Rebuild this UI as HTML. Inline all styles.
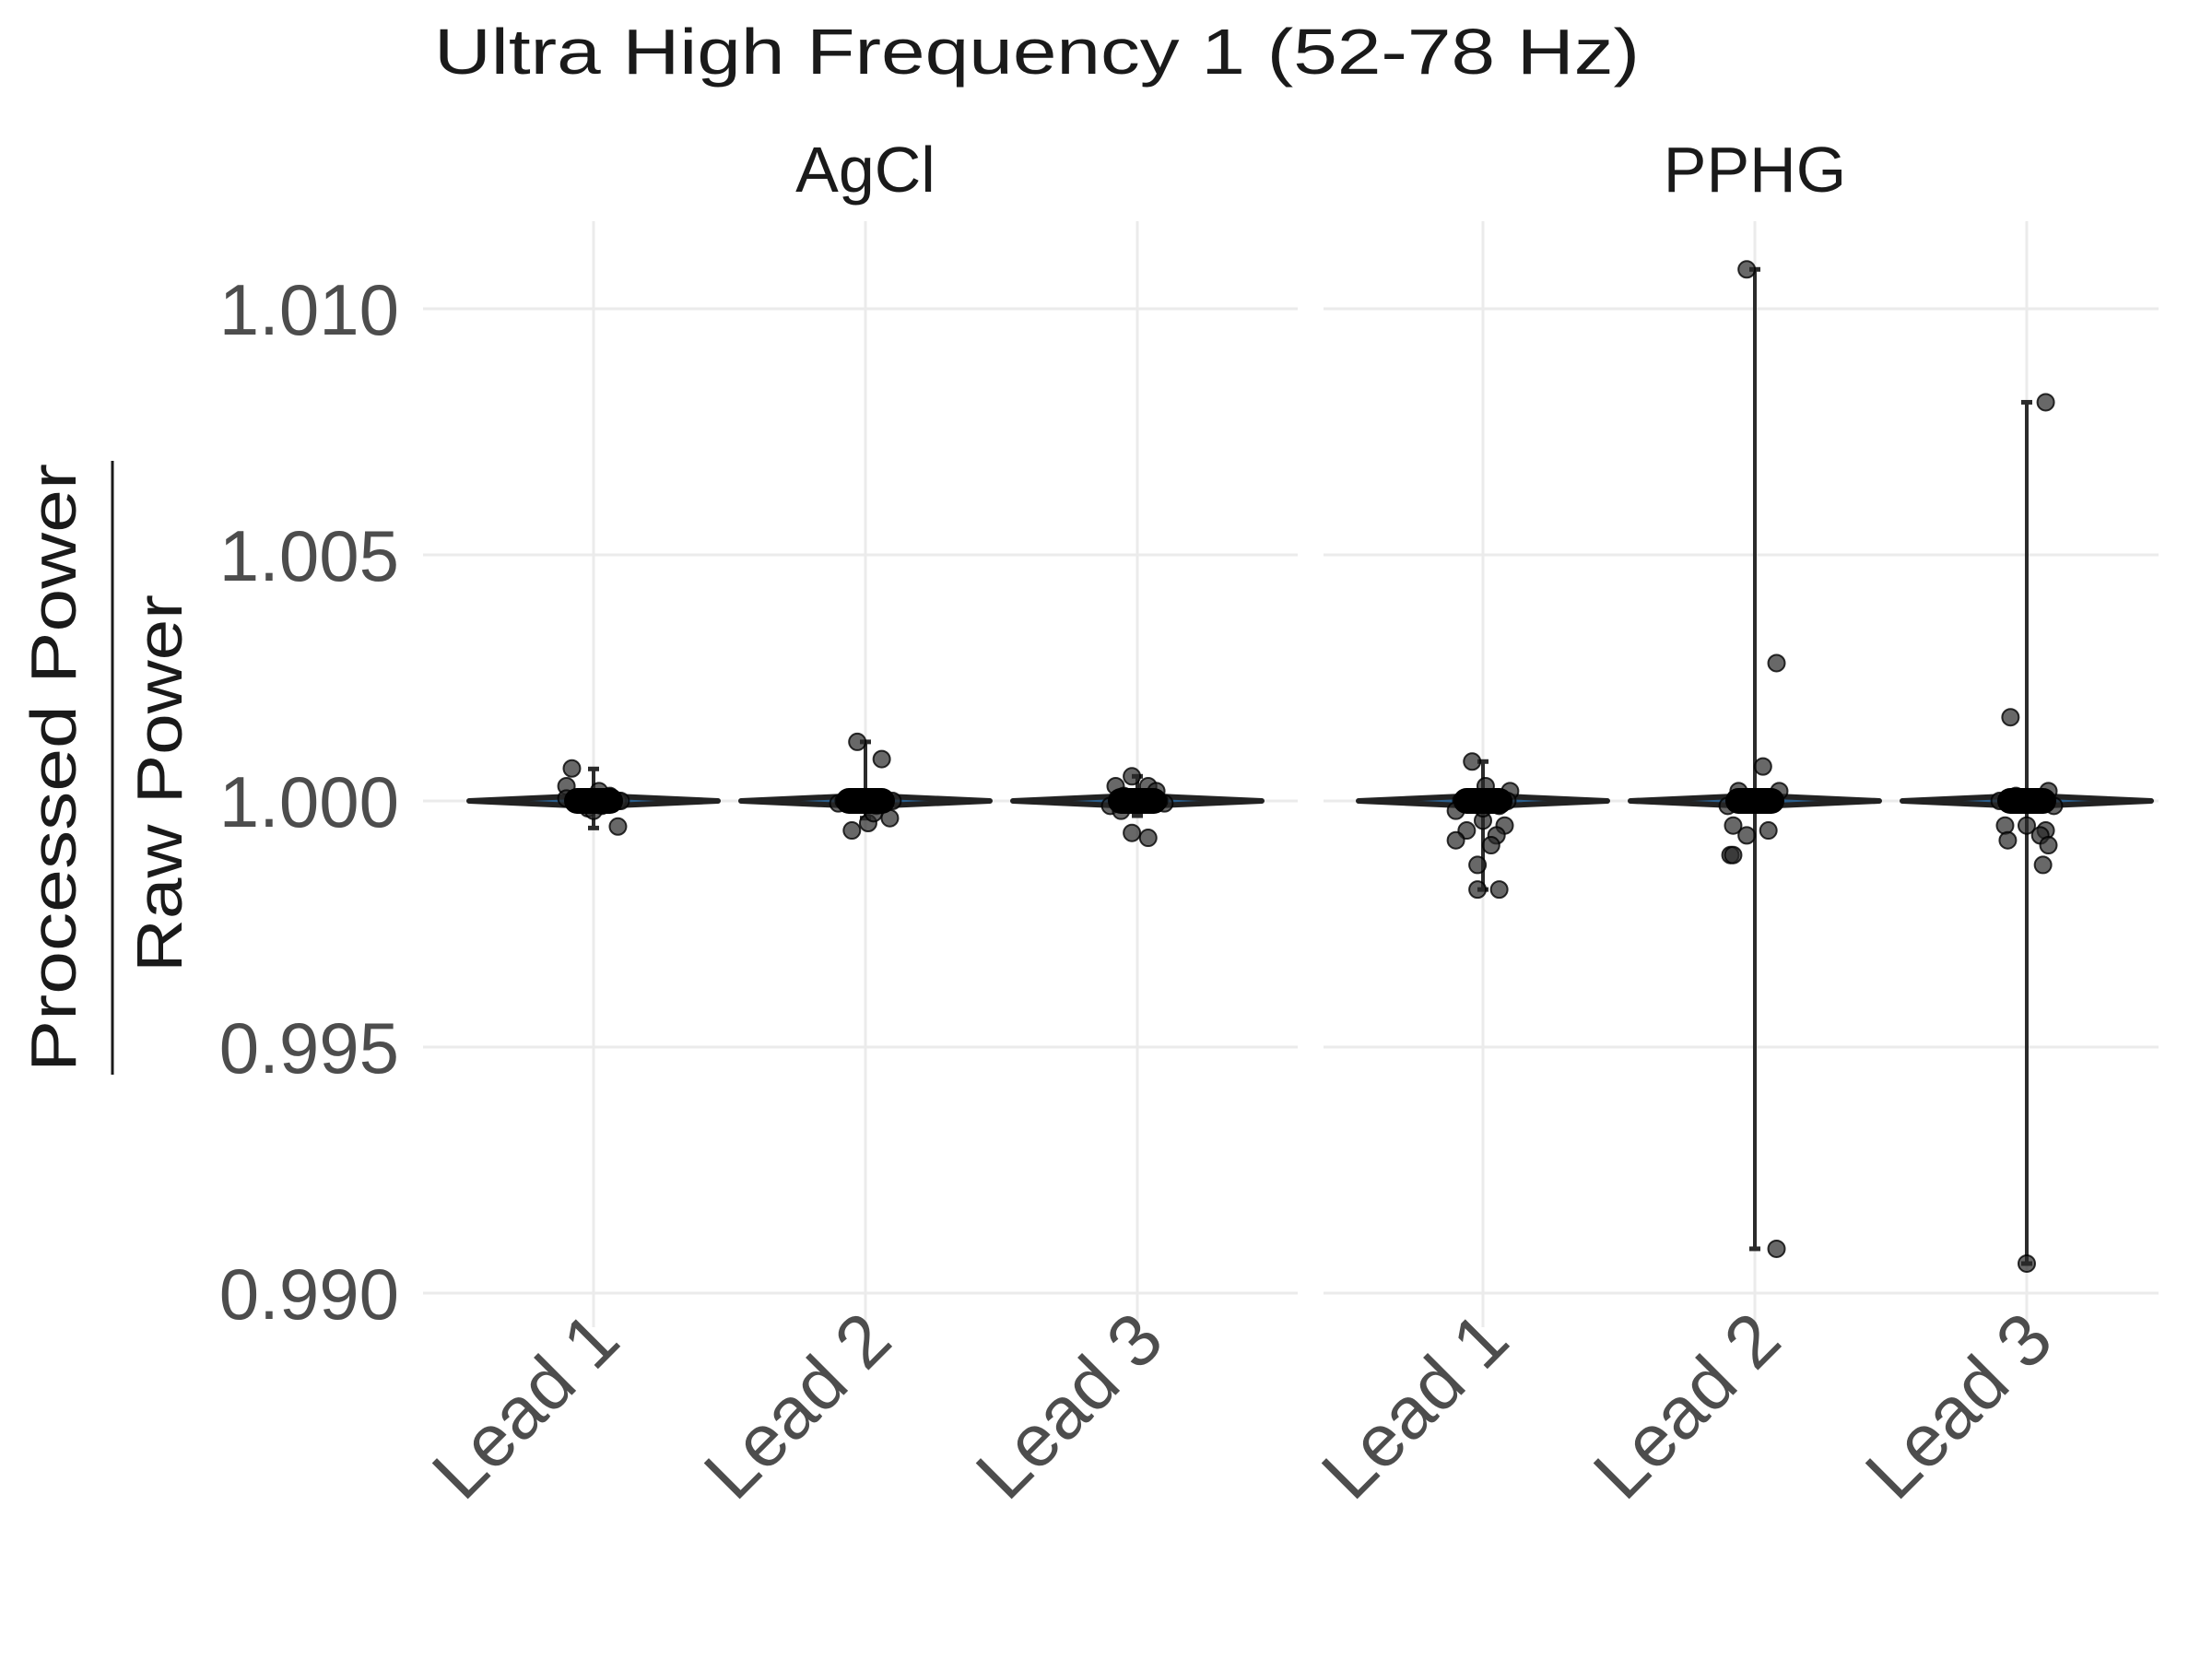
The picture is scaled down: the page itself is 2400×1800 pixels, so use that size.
<!DOCTYPE html>
<html><head><meta charset="utf-8"><style>
html,body{margin:0;padding:0;background:#fff;}
svg{display:block;font-family:"Liberation Sans",sans-serif;}
</style></head><body>
<svg id="chart" width="2400" height="1800" viewBox="0 0 2400 1800" xmlns="http://www.w3.org/2000/svg">
<text x="471" y="80" font-size="70" fill="#1a1a1a" textLength="1308" lengthAdjust="spacingAndGlyphs">Ultra High Frequency 1 (52-78 Hz)</text>
<g>
<text transform="translate(82,833) rotate(-90)" text-anchor="middle" font-size="70" fill="#1a1a1a" textLength="660" lengthAdjust="spacingAndGlyphs">Processed Power</text>
<line x1="122" x2="122" y1="500" y2="1166" stroke="#1a1a1a" stroke-width="3"/>
<text transform="translate(197,850) rotate(-90)" text-anchor="middle" font-size="70" fill="#1a1a1a" textLength="410" lengthAdjust="spacingAndGlyphs">Raw Power</text>
</g>
<g id="plot"></g>
</svg>
<script>
const panels = ["AgCl", "PPHG"];
const categories = ["Lead 1", "Lead 2", "Lead 3"];
const yTicks = [0.990, 0.995, 1.000, 1.005, 1.010];
const yTickLabels = ["0.990", "0.995", "1.000", "1.005", "1.010"];
const rangeMin = [[0.99945, 0.99965, 0.9997], [0.9982, 0.9909, 0.9906]];
const rangeMax = [[1.00065, 1.0012, 1.0005], [1.0008, 1.0108, 1.0081]];
const violinCenter = [[1.0000, 1.0000, 1.0000], [1.0000, 1.0000, 1.0000]];
const ptValues = [
 [
  [1.00066, 1.0003, 1.0002, 1.0001, 1.0000, 0.99995, 0.9999, 0.99985, 1.0000, 1.00005, 0.99948, 0.9998, 1.0000],
  [1.0012, 1.00085, 1.0000, 0.99995, 0.9999, 0.99965, 0.99955, 0.9994, 1.0000, 1.0000, 1.00005, 0.99975],
  [1.0005, 1.0003, 1.0003, 1.0002, 1.0001, 1.0000, 0.99995, 0.9999, 0.99935, 0.99925, 1.0000, 0.9998]
 ],
 [
  [1.0008, 1.0003, 1.0002, 1.0000, 0.9999, 0.9998, 0.9996, 0.9995, 0.9994, 0.9993, 0.9992, 0.9991, 0.9987, 0.9982, 0.9982, 1.0000, 0.99985],
  [1.0028, 1.0007, 1.0002, 1.0002, 1.0000, 0.9999, 0.9995, 0.9994, 0.9993, 0.9989, 0.9989, 0.9909, 1.0000, 0.99995, 1.0108],
  [1.0017, 1.0002, 1.0001, 1.0000, 0.9999, 0.9995, 0.9995, 0.9994, 0.9993, 0.9992, 0.9991, 0.9987, 0.9906, 1.0081, 1.0000]
 ]
];
const ptJitter = [
 [
  [-0.08, -0.1, 0.02, 0.06, 0.09, -0.05, 0.03, -0.02, 0.1, -0.1, 0.09, 0.0, 0.04],
  [-0.03, 0.06, 0.1, -0.1, 0.04, 0.09, 0.01, -0.05, -0.08, 0.0, 0.07, 0.03],
  [-0.02, -0.08, 0.04, 0.07, -0.05, 0.0, 0.1, -0.1, -0.02, 0.04, 0.08, -0.06]
 ],
 [
  [-0.04, 0.01, 0.1, -0.08, 0.06, -0.1, 0.0, 0.08, -0.06, 0.05, -0.1, 0.03, -0.02, -0.02, 0.06, 0.09, 0.0],
  [0.08, 0.03, -0.06, 0.09, 0.0, -0.1, -0.08, 0.05, -0.03, -0.09, -0.08, 0.08, 0.06, -0.04, -0.03],
  [-0.06, 0.08, -0.04, 0.02, 0.1, -0.08, 0.0, 0.07, 0.05, -0.07, 0.08, 0.06, 0.0, 0.07, -0.1]
 ]
];
const NS = "http://www.w3.org/2000/svg";
const plot = document.getElementById("plot");
const panelX = [[459, 1408], [1436, 2342]];
const firstCenter = [644, 1609];
const step = 295;
const yTop = 240, yBot = 1440;
function yScale(v){ return 869 + (1.0 - v) * 53400; }
function xScale(p, i){ return firstCenter[p] + i * step; }
function mk(tag, attrs, parent){ const e = document.createElementNS(NS, tag); for (const k in attrs) e.setAttribute(k, attrs[k]); (parent||plot).appendChild(e); return e; }

yTicks.forEach((t, k) => {
  const lab = mk("text", {x: 433, y: yScale(t) + 28, "text-anchor": "end", "font-size": 78, fill: "#4d4d4d"});
  
  
  lab.textContent = yTickLabels[k];
});
panels.forEach((pn, p) => {
  const g = mk("g", {});
  
  
  const strip = mk("text", {x: xScale(p, 1), y: 208, "text-anchor": "middle", "font-size": 70, fill: "#1a1a1a"}, g);
  
  
  strip.textContent = pn;
  yTicks.forEach(t => {
    const gl = mk("line", {x1: panelX[p][0], x2: panelX[p][1], y1: yScale(t), y2: yScale(t), stroke: "#ebebeb", "stroke-width": 3}, g);
    
    
  });
  categories.forEach((c, i) => {
    const x = xScale(p, i);
    const gl = mk("line", {x1: x, x2: x, y1: yTop, y2: yBot, stroke: "#ebebeb", "stroke-width": 3}, g);
    
    
    const xl = mk("text", {transform: `translate(${x + 32},${1458}) rotate(-45)`, "text-anchor": "end", "font-size": 80, fill: "#4d4d4d"}, g);
    
    
    xl.textContent = c;
  });
  categories.forEach((c, i) => {
    const x = xScale(p, i);
    const cy = yScale(violinCenter[p][i]);
    const hw = 135;
    const v = mk("path", {d: `M${x-hw},${cy} Q${x-40},${cy-4} ${x},${cy-6} Q${x+40},${cy-4} ${x+hw},${cy} Q${x+40},${cy+4} ${x},${cy+6} Q${x-40},${cy+4} ${x-hw},${cy} Z`, fill: "#2b5d8a", stroke: "#222", "stroke-width": 6, "stroke-linejoin": "round"}, g);
    
    
    const y1 = yScale(rangeMax[p][i]), y2 = yScale(rangeMin[p][i]);
    const wl = mk("line", {x1: x, x2: x, y1: y1, y2: y2, stroke: "#2b2b2b", "stroke-width": 4}, g);
    
    
    [y1, y2].forEach(yy => {
      const cap = mk("line", {x1: x - 6, x2: x + 6, y1: yy, y2: yy, stroke: "#2b2b2b", "stroke-width": 5}, g);
      
      
    });
    const pts = ptValues[p][i];
    pts.forEach((val, j) => {
      const cx = x + ptJitter[p][i][j] * 294;
      const c2 = mk("circle", {cx: cx, cy: yScale(val), r: 9, fill: "rgba(40,40,40,0.7)", stroke: "rgba(0,0,0,0.8)", "stroke-width": 2}, g);
      
      
    });
    const cl = mk("rect", {x: x - 32, y: cy - 14, width: 64, height: 28, rx: 14, fill: "#000"}, g);
    
    
  });
});
</script>
</body></html>
